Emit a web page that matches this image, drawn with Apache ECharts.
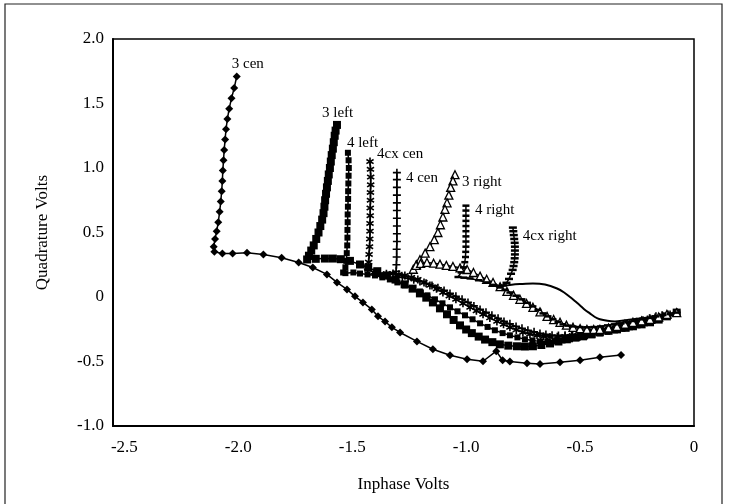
<!DOCTYPE html>
<html><head><meta charset="utf-8">
<script src="https://cdn.jsdelivr.net/npm/echarts@6/dist/echarts.min.js"></script>
<style>html,body{margin:0;padding:0;background:#fff}#c{width:729px;height:504px}</style>
</head><body><div id="c"></div>
<script>
// ---- data (Inphase, Quadrature) in volts ----
const seriesNames = ["3 cen","3 left","4 left","4cx cen","4 cen","3 right","4 right","4cx right"];
const xTicks = [-2.5,-2.0,-1.5,-1.0,-0.5,0];
const yTicks = [-1.0,-0.5,0,0.5,1.0,1.5,2.0];

const threeCen = [[-2.007,1.71],[-2.018,1.62],[-2.03,1.54],[-2.04,1.46],[-2.048,1.38],[-2.054,1.30],[-2.058,1.22],[-2.062,1.14],[-2.065,1.06],[-2.068,0.98],[-2.07,0.90],[-2.073,0.82],[-2.077,0.74],[-2.082,0.66],[-2.088,0.58],[-2.095,0.51],[-2.102,0.45],[-2.108,0.39],[-2.105,0.35],[-2.07,0.338],[-2.025,0.338],[-1.962,0.343],[-1.89,0.33],[-1.81,0.305],[-1.735,0.268],[-1.673,0.229],[-1.611,0.175],[-1.567,0.113],[-1.523,0.059],[-1.488,0.005],[-1.453,-0.042],[-1.414,-0.096],[-1.387,-0.15],[-1.356,-0.19],[-1.326,-0.235],[-1.29,-0.275],[-1.216,-0.344],[-1.146,-0.405],[-1.071,-0.452],[-0.996,-0.483],[-0.926,-0.498],[-0.868,-0.42],[-0.84,-0.49],[-0.808,-0.50],[-0.733,-0.514],[-0.676,-0.52],[-0.588,-0.506],[-0.50,-0.49],[-0.413,-0.467],[-0.32,-0.45]];

const threeLeft = [[-1.567,1.334],[-1.573,1.29],[-1.577,1.25],[-1.581,1.20],[-1.585,1.15],[-1.59,1.10],[-1.594,1.05],[-1.598,1.00],[-1.603,0.95],[-1.607,0.90],[-1.611,0.85],[-1.615,0.80],[-1.619,0.75],[-1.622,0.70],[-1.626,0.65],[-1.632,0.60],[-1.64,0.55],[-1.648,0.50],[-1.658,0.45],[-1.669,0.40],[-1.68,0.36],[-1.69,0.32],[-1.698,0.291],[-1.66,0.296],[-1.62,0.298],[-1.585,0.298],[-1.55,0.293],[-1.51,0.28],[-1.466,0.252],[-1.43,0.228],[-1.39,0.2],[-1.348,0.167],[-1.31,0.135],[-1.27,0.098],[-1.235,0.065],[-1.203,0.028],[-1.175,-0.005],[-1.146,-0.042],[-1.115,-0.088],[-1.084,-0.134],[-1.055,-0.178],[-1.027,-0.22],[-1.0,-0.252],[-0.975,-0.28],[-0.945,-0.307],[-0.917,-0.33],[-0.885,-0.35],[-0.852,-0.367],[-0.815,-0.377],[-0.777,-0.382],[-0.742,-0.384],[-0.707,-0.382],[-0.67,-0.372],[-0.632,-0.36],[-0.595,-0.345],[-0.558,-0.328],[-0.52,-0.315],[-0.487,-0.305],[-0.45,-0.29],[-0.413,-0.274],[-0.375,-0.262],[-0.338,-0.251],[-0.30,-0.239],[-0.268,-0.227],[-0.23,-0.212],[-0.193,-0.196],[-0.155,-0.175],[-0.119,-0.15],[-0.076,-0.121]];

const fourLeft = [[-1.519,1.118],[-1.516,1.06],[-1.515,1.0],[-1.516,0.94],[-1.517,0.88],[-1.518,0.82],[-1.518,0.76],[-1.519,0.70],[-1.52,0.64],[-1.52,0.58],[-1.521,0.52],[-1.521,0.46],[-1.522,0.40],[-1.524,0.34],[-1.526,0.28],[-1.53,0.23],[-1.54,0.19],[-1.53,0.185],[-1.495,0.19],[-1.466,0.182],[-1.433,0.175],[-1.40,0.167],[-1.368,0.152],[-1.335,0.136],[-1.302,0.113],[-1.269,0.09],[-1.236,0.066],[-1.203,0.043],[-1.17,0.013],[-1.137,-0.018],[-1.104,-0.049],[-1.071,-0.08],[-1.038,-0.111],[-1.005,-0.142],[-0.972,-0.173],[-0.939,-0.204],[-0.906,-0.232],[-0.874,-0.258],[-0.84,-0.28],[-0.808,-0.297],[-0.775,-0.313],[-0.742,-0.328],[-0.709,-0.337],[-0.676,-0.344],[-0.643,-0.345],[-0.61,-0.344],[-0.577,-0.337],[-0.544,-0.328],[-0.511,-0.317],[-0.478,-0.305],[-0.445,-0.293],[-0.413,-0.282],[-0.38,-0.27],[-0.347,-0.259],[-0.314,-0.247],[-0.281,-0.235],[-0.248,-0.22],[-0.215,-0.204],[-0.182,-0.186],[-0.149,-0.166],[-0.112,-0.143],[-0.076,-0.121]];

const fourCxCen = [[-1.422,1.05],[-1.42,0.99],[-1.419,0.93],[-1.419,0.87],[-1.42,0.81],[-1.42,0.75],[-1.421,0.69],[-1.421,0.63],[-1.422,0.57],[-1.422,0.51],[-1.423,0.45],[-1.424,0.39],[-1.426,0.33],[-1.428,0.27],[-1.432,0.225],[-1.405,0.19],[-1.378,0.175],[-1.35,0.18],[-1.321,0.183],[-1.295,0.176],[-1.269,0.167],[-1.24,0.152],[-1.212,0.136],[-1.185,0.113],[-1.159,0.09],[-1.13,0.063],[-1.102,0.035],[-1.074,0.008],[-1.045,-0.018],[-1.014,-0.049],[-0.983,-0.08],[-0.955,-0.107],[-0.926,-0.134],[-0.896,-0.162],[-0.865,-0.189],[-0.836,-0.212],[-0.808,-0.235],[-0.78,-0.255],[-0.751,-0.274],[-0.72,-0.287],[-0.689,-0.297],[-0.66,-0.306],[-0.632,-0.31],[-0.6,-0.309],[-0.566,-0.305],[-0.533,-0.298],[-0.5,-0.29],[-0.468,-0.279],[-0.435,-0.267],[-0.402,-0.255],[-0.369,-0.243],[-0.336,-0.232],[-0.303,-0.22],[-0.27,-0.204],[-0.237,-0.189],[-0.204,-0.174],[-0.171,-0.158],[-0.138,-0.146],[-0.105,-0.135],[-0.076,-0.121]];

const fourCen = [[-1.304,0.964],[-1.304,0.91],[-1.304,0.85],[-1.304,0.79],[-1.304,0.73],[-1.304,0.67],[-1.304,0.61],[-1.304,0.55],[-1.304,0.49],[-1.304,0.43],[-1.305,0.37],[-1.305,0.31],[-1.306,0.25],[-1.307,0.2],[-1.308,0.16],[-1.28,0.152],[-1.255,0.144],[-1.23,0.133],[-1.203,0.121],[-1.176,0.106],[-1.15,0.09],[-1.124,0.071],[-1.097,0.051],[-1.071,0.028],[-1.045,0.005],[-1.018,-0.018],[-0.992,-0.042],[-0.966,-0.069],[-0.939,-0.096],[-0.913,-0.119],[-0.887,-0.142],[-0.86,-0.165],[-0.834,-0.189],[-0.808,-0.208],[-0.781,-0.228],[-0.755,-0.243],[-0.729,-0.258],[-0.702,-0.27],[-0.676,-0.282],[-0.65,-0.29],[-0.623,-0.297],[-0.595,-0.298],[-0.566,-0.297],[-0.537,-0.294],[-0.509,-0.29],[-0.483,-0.282],[-0.457,-0.274],[-0.428,-0.262],[-0.399,-0.251],[-0.37,-0.24],[-0.342,-0.228],[-0.311,-0.216],[-0.281,-0.204],[-0.252,-0.192],[-0.224,-0.181],[-0.195,-0.165],[-0.167,-0.15],[-0.14,-0.142],[-0.114,-0.135],[-0.076,-0.121]];

const threeRight = [[-1.049,0.948],[-1.058,0.90],[-1.068,0.85],[-1.076,0.79],[-1.084,0.73],[-1.093,0.68],[-1.102,0.62],[-1.113,0.56],[-1.124,0.50],[-1.14,0.445],[-1.159,0.39],[-1.18,0.34],[-1.203,0.29],[-1.218,0.25],[-1.232,0.215],[-1.22,0.245],[-1.2,0.26],[-1.172,0.268],[-1.143,0.262],[-1.115,0.255],[-1.087,0.245],[-1.058,0.237],[-1.027,0.226],[-0.996,0.213],[-0.968,0.19],[-0.939,0.162],[-0.91,0.137],[-0.882,0.113],[-0.851,0.08],[-0.821,0.043],[-0.792,0.013],[-0.764,-0.018],[-0.735,-0.05],[-0.707,-0.08],[-0.676,-0.115],[-0.645,-0.15],[-0.616,-0.175],[-0.588,-0.196],[-0.56,-0.218],[-0.531,-0.235],[-0.5,-0.245],[-0.47,-0.251],[-0.44,-0.252],[-0.413,-0.251],[-0.375,-0.24],[-0.338,-0.227],[-0.303,-0.21],[-0.268,-0.196],[-0.23,-0.185],[-0.193,-0.173],[-0.155,-0.155],[-0.119,-0.135],[-0.076,-0.121]];

const fourRight = [[-1.001,0.708],[-1.001,0.67],[-1.001,0.63],[-1.001,0.59],[-1.001,0.55],[-1.001,0.51],[-1.001,0.47],[-1.001,0.43],[-1.001,0.39],[-1.002,0.35],[-1.003,0.31],[-1.006,0.27],[-1.012,0.23],[-1.022,0.19],[-1.036,0.155],[-1.01,0.15],[-0.983,0.144],[-0.946,0.13],[-0.909,0.113],[-0.88,0.094],[-0.852,0.074],[-0.83,0.055],[-0.808,0.035],[-0.782,0.01],[-0.755,-0.018],[-0.731,-0.045],[-0.707,-0.073],[-0.685,-0.1],[-0.663,-0.127],[-0.641,-0.15],[-0.619,-0.173],[-0.597,-0.193],[-0.575,-0.212],[-0.553,-0.222],[-0.531,-0.228],[-0.5,-0.233],[-0.47,-0.235],[-0.44,-0.233],[-0.41,-0.228],[-0.38,-0.22],[-0.35,-0.212],[-0.32,-0.204],[-0.29,-0.196],[-0.26,-0.186],[-0.228,-0.173],[-0.197,-0.162],[-0.167,-0.15],[-0.136,-0.14],[-0.105,-0.132],[-0.076,-0.121]];

const fourCxRightStem = [[-0.795,0.538],[-0.793,0.51],[-0.791,0.48],[-0.789,0.45],[-0.787,0.42],[-0.786,0.39],[-0.786,0.36],[-0.786,0.33],[-0.787,0.30],[-0.789,0.27],[-0.792,0.24],[-0.796,0.21],[-0.803,0.18],[-0.812,0.14],[-0.823,0.11],[-0.838,0.09],[-0.852,0.082]];
const fourCxRightArc = [[-0.852,0.082],[-0.8,0.095],[-0.764,0.1],[-0.707,0.105],[-0.654,0.097],[-0.601,0.066],[-0.57,0.035],[-0.544,0.0],[-0.52,-0.035],[-0.5,-0.065],[-0.478,-0.1],[-0.457,-0.127],[-0.435,-0.155],[-0.413,-0.173],[-0.38,-0.185],[-0.347,-0.189],[-0.31,-0.183],[-0.268,-0.173],[-0.23,-0.165],[-0.193,-0.158],[-0.16,-0.147],[-0.127,-0.135],[-0.1,-0.128],[-0.076,-0.121]];

// ---- styling ----
const FONT = '"Liberation Serif", "DejaVu Serif", serif';
const INK = '#000';
const PLUS = 'path://M4,0H6V4H10V6H6V10H4V6H0V4H4Z';
const STAR = 'path://M4,0h2v3.3l2.9-1.7 1,1.7L7,5l2.9,1.7-1,1.7L6,6.7V10H4V6.7L1.1,8.4l-1-1.7L3,5 0.1,3.3l1-1.7L4,3.3z';
const BAR = 'path://M0,0H10V3H0Z';

function lab(name, off){
  return {show:true, position:'inside', align:'left', verticalAlign:'middle', offset:off,
    color:INK, fontFamily:FONT, fontSize:15, textBorderWidth:0,
    formatter: p => p.dataIndex === 0 ? name : ''};
}
function mk(name, data, symbol, size, off, extra){
  return Object.assign({
    type:'line', name, data, symbol, symbolSize:size, showAllSymbol:true,
    lineStyle:{color:INK, width:1.5}, itemStyle:{color:INK},
    label: off ? lab(name, off) : {show:false},
    emphasis:{disabled:true}, animation:false, z:2
  }, extra||{});
}

const chart = echarts.init(document.getElementById('c'), null, {renderer:'canvas'});
const isTick = (v, arr) => arr.some(t => Math.abs(t - v) < 1e-6);
chart.setOption({
  backgroundColor:'#fff',
  animation:false,
  graphic:[{type:'rect', shape:{x:5, y:4, width:717, height:520}, style:{fill:'none', stroke:'#222', lineWidth:1.2}, silent:true}],
  grid:{left:113, right:35, top:39, bottom:78, show:true, borderColor:INK, borderWidth:1.5, backgroundColor:'transparent'},
  xAxis:{type:'value', min:-2.55, max:0, interval:0.05,
    name:'Inphase Volts', nameLocation:'middle', nameGap:50,
    nameTextStyle:{fontFamily:FONT, fontSize:17, color:INK},
    axisLine:{show:true, onZero:false, lineStyle:{color:INK, width:2}},
    axisTick:{show:false}, splitLine:{show:false},
    axisLabel:{fontFamily:FONT, fontSize:17, color:INK, margin:13, showMinLabel:true, showMaxLabel:true,
      formatter: v => isTick(v, xTicks) ? (Math.abs(v) < 1e-9 ? '0' : v.toFixed(1)) : ''}},
  yAxis:{type:'value', min:-1, max:2, interval:0.5,
    name:'Quadrature Volts', nameLocation:'middle', nameRotate:90, nameGap:62,
    nameTextStyle:{fontFamily:FONT, fontSize:17, color:INK},
    axisLine:{show:true, onZero:false, lineStyle:{color:INK, width:2}},
    axisTick:{show:false}, splitLine:{show:false},
    axisLabel:{fontFamily:FONT, fontSize:17, color:INK, margin:9,
      formatter: v => isTick(v, yTicks) ? (Math.abs(v) < 1e-9 ? '0' : v.toFixed(1)) : ''}},
  series:[
    mk(seriesNames[0], threeCen, 'diamond', 8, [-5,-12]),
    mk(seriesNames[1], threeLeft, 'rect', 8, [-15,-12]),
    mk(seriesNames[2], fourLeft, 'rect', 6, [-1,-10]),
    mk(seriesNames[3], fourCxCen, STAR, 8, [7,-7]),
    mk(seriesNames[4], fourCen, PLUS, 8, [9,5]),
    mk(seriesNames[5], threeRight, 'triangle', 8, [7,7], {itemStyle:{color:'#fff', borderColor:INK, borderWidth:1.3}}),
    mk(seriesNames[6], fourRight, BAR, [7,2.5], [9,4]),
    mk(seriesNames[7], fourCxRightStem, BAR, [8,2.5], [10,8]),
    mk(seriesNames[7] + ' ', fourCxRightArc, 'none', 0, null, {lineStyle:{color:INK, width:2}, smooth:0.3})
  ]
});
</script></body></html>
